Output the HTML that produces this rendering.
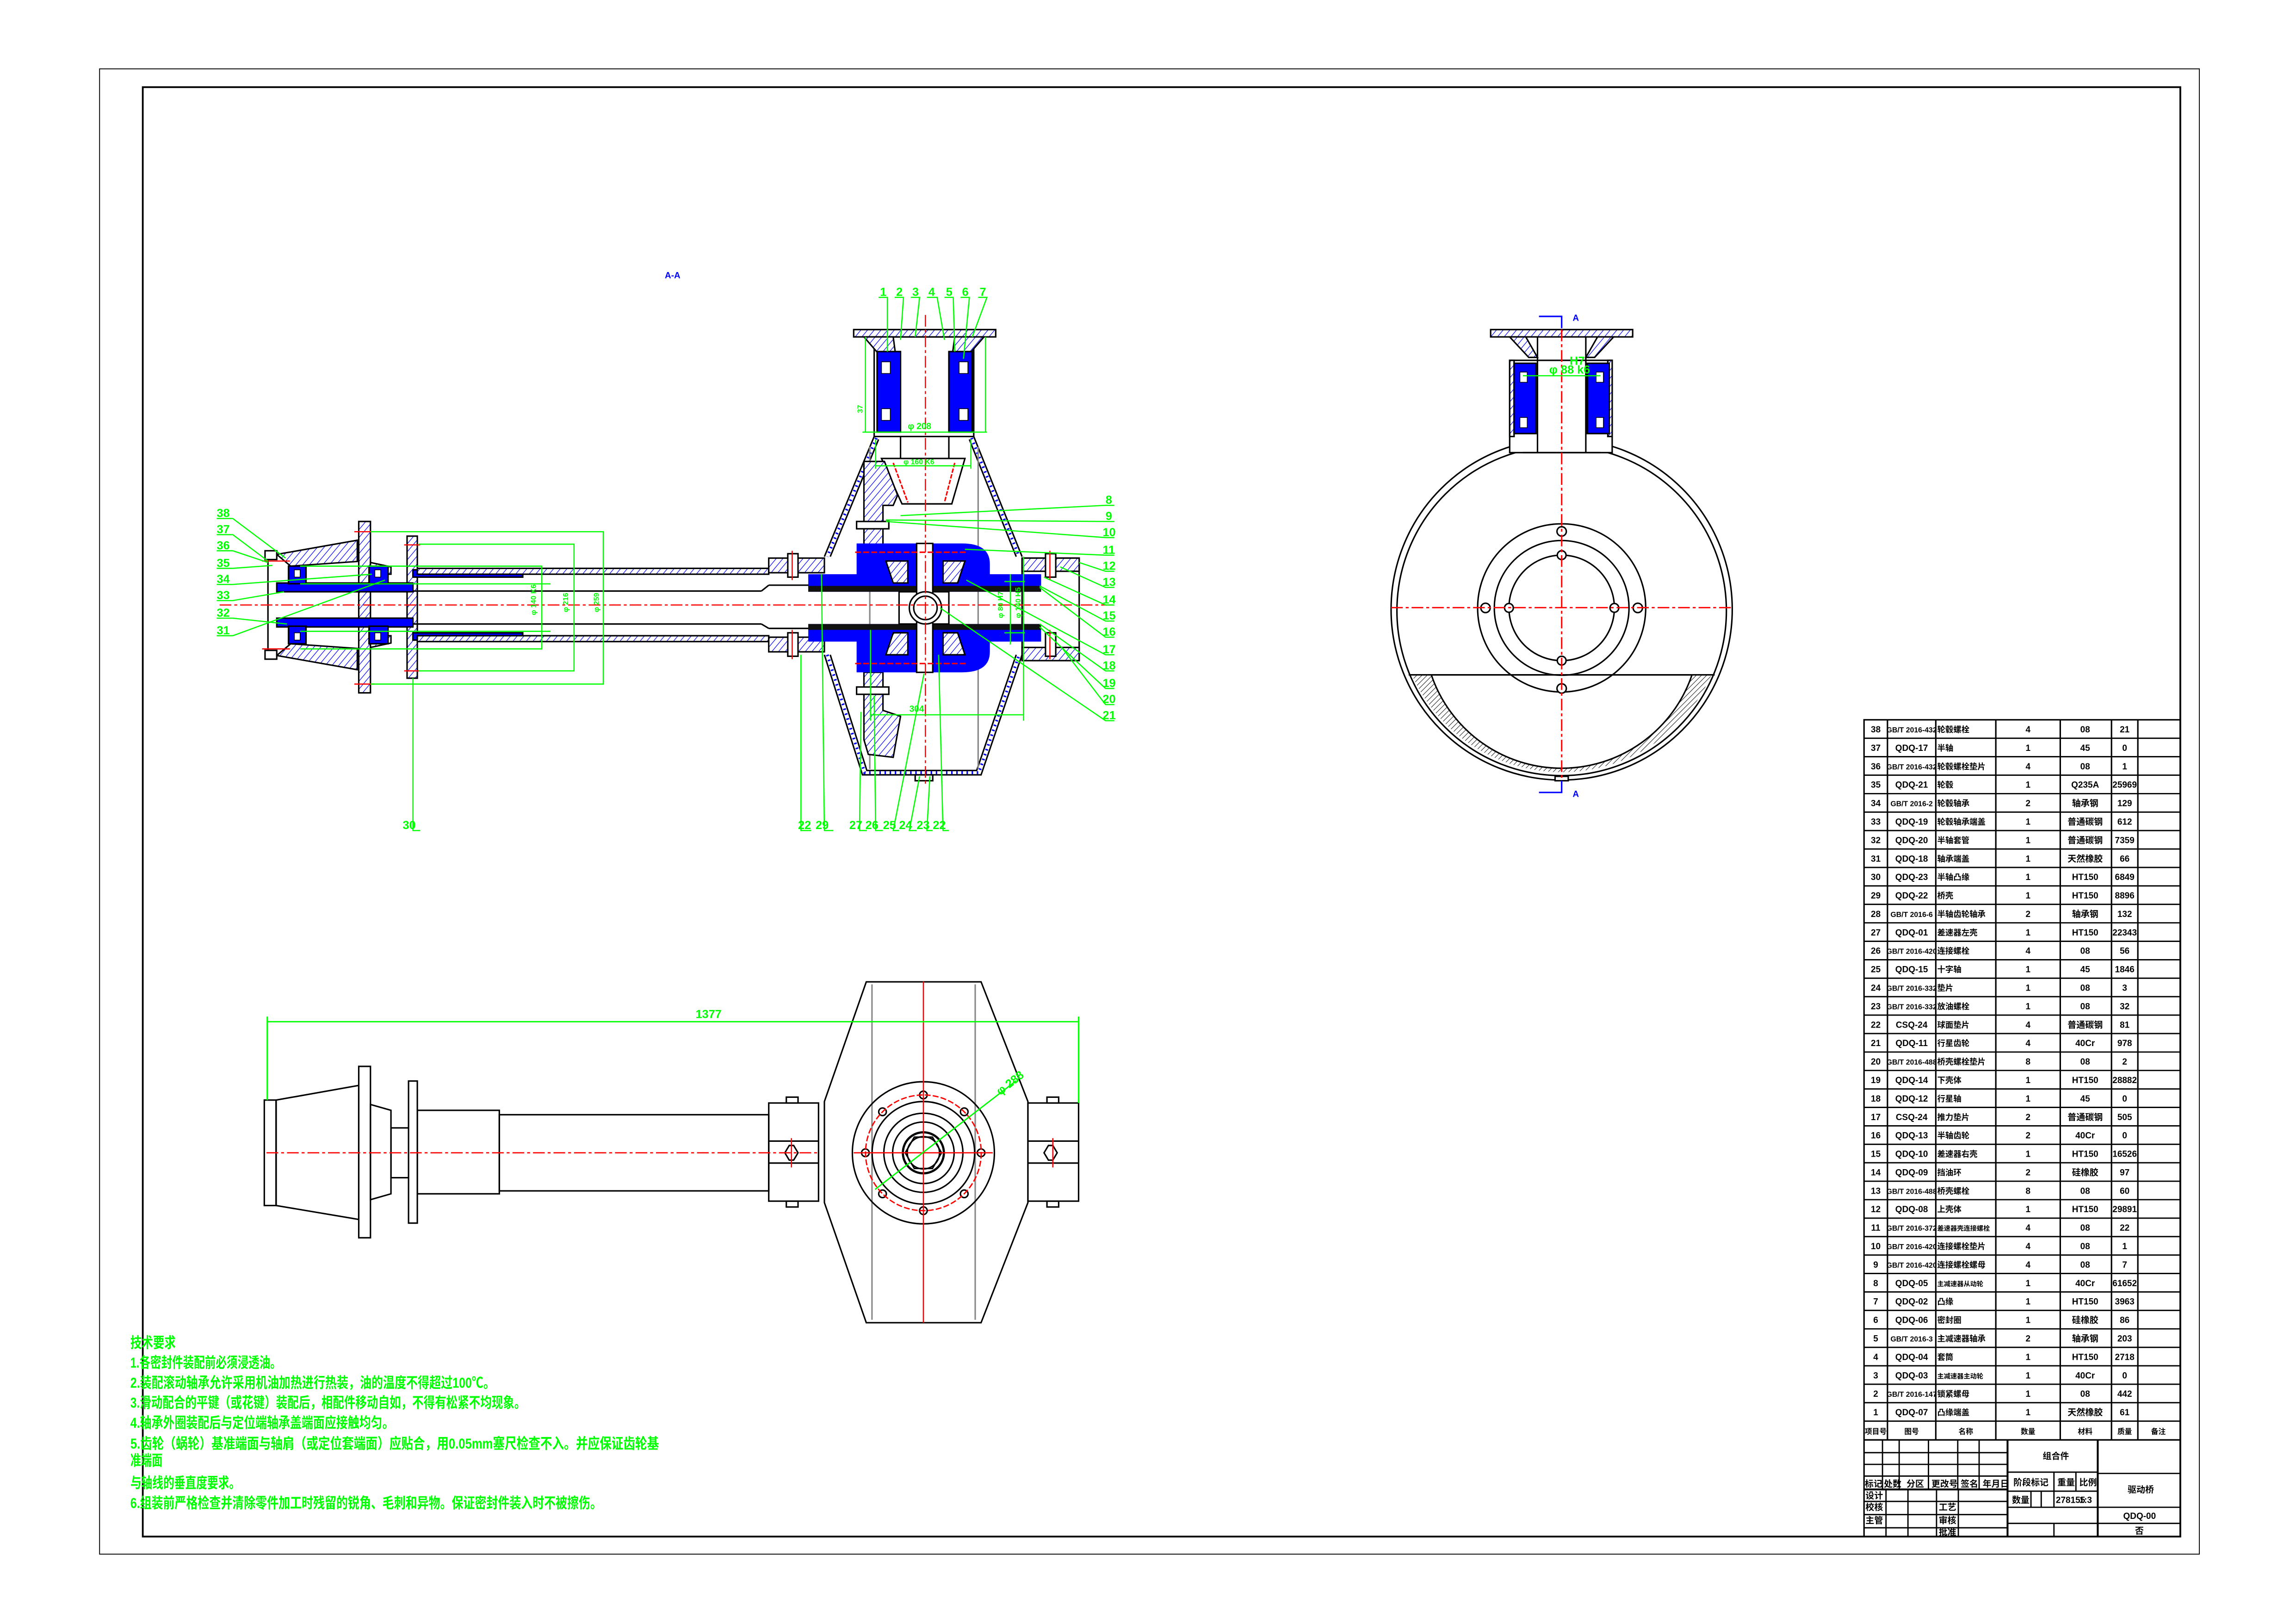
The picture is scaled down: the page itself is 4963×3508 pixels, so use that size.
<!DOCTYPE html>
<html><head><meta charset="utf-8"><style>
html,body{margin:0;padding:0;background:#fff;}
svg{display:block;}
text{font-family:"Liberation Sans","Noto Sans CJK SC",sans-serif;}
.g{fill:#00ff00;font-size:8px;font-weight:bold;}
.t{font-size:6px;font-weight:bold;fill:#000;}
</style></head><body>
<svg width="4963" height="3508" viewBox="0 0 1568 1108" preserveAspectRatio="none" xmlns="http://www.w3.org/2000/svg">
<defs>
<pattern id="hb" width="3.5" height="3.5" patternUnits="userSpaceOnUse" patternTransform="rotate(40)"><rect width="3.5" height="3.5" fill="#fff"/><line x1="0" y1="0" x2="0" y2="3.5" stroke="#0000ff" stroke-width="0.8"/></pattern>
<pattern id="hk" width="2.5" height="2.5" patternUnits="userSpaceOnUse" patternTransform="rotate(45)"><rect width="2.5" height="2.5" fill="#fff"/><line x1="0" y1="0" x2="0" y2="2.5" stroke="#000" stroke-width="0.6"/></pattern>
</defs>
<rect width="1568" height="1108" fill="#fff"/>
<rect x="68" y="47" width="1434" height="1014" fill="none" stroke="#000" stroke-width="0.6"/>
<rect x="97.5" y="59.5" width="1391.5" height="989.5" fill="none" stroke="#000" stroke-width="1.2"/>

<text x="454" y="190" fill="#0000ff" font-size="6" font-weight="bold">A-A</text>

<!-- ============ SECTION VIEW ============ -->
<g stroke="#000" stroke-width="1" fill="none">
<!-- left hub cone -->
<polygon points="189,378.5 244,368.8 244,383.3 198.5,386.5" fill="url(#hb)"/>
<polygon points="189,447.5 244,457.2 244,442.7 198.5,439.5" fill="url(#hb)"/>
<rect x="245" y="356" width="8" height="117" fill="url(#hb)"/>
<rect x="278" y="366" width="7" height="97" fill="url(#hb)"/>
<line x1="183" y1="380" x2="183" y2="446"/>
<rect x="181" y="376" width="8" height="6" fill="#fff"/>
<rect x="181" y="444" width="8" height="6" fill="#fff"/>
<polygon points="253,384 267,387 267,392 253,392" fill="url(#hb)"/>
<polygon points="253,442 267,439 267,434 253,434" fill="url(#hb)"/>
<!-- blue hub -->
<rect x="189" y="398" width="93" height="6" fill="#0000ff"/>
<rect x="189" y="422" width="93" height="6" fill="#0000ff"/>
<rect x="282" y="389" width="75" height="5" fill="#0000ff"/>
<rect x="282" y="432" width="75" height="5" fill="#0000ff"/>
<rect x="197" y="386.5" width="12" height="12" fill="#0000ff"/>
<rect x="252" y="386.5" width="13" height="12" fill="#0000ff"/>
<rect x="197" y="427.5" width="12" height="12" fill="#0000ff"/>
<rect x="252" y="427.5" width="13" height="12" fill="#0000ff"/>
<rect x="201" y="389" width="4" height="5" fill="#fff" stroke-width="0.5"/>
<rect x="256" y="389" width="4" height="5" fill="#fff" stroke-width="0.5"/>
<rect x="201" y="432" width="4" height="5" fill="#fff" stroke-width="0.5"/>
<rect x="256" y="432" width="4" height="5" fill="#fff" stroke-width="0.5"/>
<!-- tube -->
<rect x="285" y="388" width="240" height="4" fill="url(#hb)"/>
<rect x="285" y="434" width="240" height="4" fill="url(#hb)"/>
<line x1="282" y1="403.5" x2="520" y2="403.5"/><line x1="520" y1="403.5" x2="525" y2="399.5"/><line x1="525" y1="399.5" x2="555" y2="399.5"/>
<line x1="282" y1="426" x2="520" y2="426"/><line x1="520" y1="426" x2="525" y2="429"/><line x1="525" y1="429" x2="555" y2="429"/>
<!-- housing flanges -->
<rect x="525" y="381" width="38" height="10" fill="url(#hb)"/>
<rect x="525" y="435" width="38" height="10" fill="url(#hb)"/>
<rect x="538" y="378" width="7" height="16" fill="#fff"/>
<rect x="538" y="432" width="7" height="16" fill="#fff"/>
<rect x="698" y="381" width="39" height="70" fill="none"/>
<rect x="698" y="381" width="39" height="9" fill="url(#hb)"/>
<rect x="698" y="442" width="39" height="9" fill="url(#hb)"/>
<rect x="714" y="378" width="7" height="16" fill="#fff"/>
<rect x="714" y="432" width="7" height="16" fill="#fff"/>
<!-- housing walls -->
<path d="M597,298 L563,380 M665,298 L698,380 M563,447 L589,529 L670,529 L698,447"/>
<path d="M600,300 L567,380 M662,300 L694,380 M567,447 L592,526 L667,526 L694,447"/>
<path d="M598.5,299 L565,380 M663.5,299 L696,380 M565,447 L590.5,527.5 L668.5,527.5 L696,447" stroke="#0000ff" stroke-width="2" stroke-dasharray="1,2.5"/>
<line x1="594" y1="305" x2="594" y2="525" stroke="#888"/>
<line x1="668" y1="305" x2="668" y2="525" stroke="#888"/>
<!-- tower -->
<rect x="597" y="230" width="68" height="68" fill="#fff"/>
<polygon points="583,225 680,225 680,230 583,230" fill="url(#hb)"/>
<polygon points="590,230 610,230 612,245 603,245" fill="url(#hb)"/>
<polygon points="672,230 652,230 650,245 659,245" fill="url(#hb)"/>
<rect x="599" y="240" width="16" height="55" fill="#0000ff"/>
<rect x="648" y="240" width="16" height="55" fill="#0000ff"/>
<rect x="602" y="247" width="6" height="8" fill="#fff" stroke-width="0.5"/>
<rect x="602" y="279" width="6" height="8" fill="#fff" stroke-width="0.5"/>
<rect x="655" y="247" width="6" height="8" fill="#fff" stroke-width="0.5"/>
<rect x="655" y="279" width="6" height="8" fill="#fff" stroke-width="0.5"/>
<line x1="615" y1="298" x2="615" y2="313"/><line x1="648" y1="298" x2="648" y2="313"/>
<!-- pinion -->
<polygon points="602,313 659,313 650,344 616,344" fill="#fff"/>
<line x1="610" y1="316" x2="620" y2="343" stroke="#f00" stroke-dasharray="3,1"/>
<line x1="652" y1="316" x2="645" y2="343" stroke="#f00" stroke-dasharray="3,1"/>
<!-- ring gear -->
<polygon points="590,315 604,315 613,338 610,345 603,345 603,372 590,372" fill="url(#hb)"/>
<polygon points="590,459 603,459 603,485 615,489 610,517 593,515 590,505" fill="url(#hb)"/>
<rect x="585" y="356" width="22" height="5" fill="#fff"/>
<rect x="585" y="469" width="22" height="5" fill="#fff"/>
<!-- blue differential -->
<path d="M585,371 L657,371 Q676,371 676,385 L676,392 L711,392 L711,404 L552,404 L552,392 L585,392 Z" fill="#0000ff" stroke="none"/>
<path d="M585,459 L657,459 Q676,459 676,445 L676,438 L711,438 L711,426 L552,426 L552,438 L585,438 Z" fill="#0000ff" stroke="none"/>
<rect x="552" y="400" width="159" height="4" fill="#111" stroke="none"/>
<rect x="552" y="426" width="159" height="4" fill="#111" stroke="none"/>
<polygon points="605,383 620,383 620,398 610,398" fill="url(#hb)"/>
<polygon points="644,383 659,383 654,398 644,398" fill="url(#hb)"/>
<polygon points="605,447 620,447 620,432 610,432" fill="url(#hb)"/>
<polygon points="644,447 659,447 654,432 644,432" fill="url(#hb)"/>
<rect x="614" y="404" width="34" height="22" fill="#fff"/>
<rect x="626" y="371" width="11" height="88" fill="#fff"/>
<circle cx="632" cy="415" r="11" fill="#fff"/>
<circle cx="632" cy="415" r="8" fill="#fff"/>
<line x1="584" y1="377" x2="660" y2="377" stroke="#f00" stroke-dasharray="4,1.5"/>
<line x1="584" y1="453" x2="660" y2="453" stroke="#f00" stroke-dasharray="4,1.5"/>
<rect x="625" y="529" width="12" height="4" fill="#fff"/>
</g>
<!-- red centerlines -->
<g stroke="#ff0000" stroke-width="0.8" fill="none">
<line x1="150" y1="413" x2="760" y2="413" stroke-dasharray="8,2,2,2"/>
<line x1="632" y1="215" x2="632" y2="535" stroke-dasharray="8,2,2,2"/>
<line x1="242" y1="363" x2="256" y2="363"/><line x1="242" y1="467" x2="256" y2="467"/>
<line x1="276" y1="372" x2="287" y2="372"/><line x1="276" y1="458" x2="287" y2="458"/>
<line x1="179" y1="383" x2="198" y2="383"/><line x1="179" y1="443" x2="198" y2="443"/>
<line x1="541" y1="376" x2="541" y2="396"/><line x1="541" y1="430" x2="541" y2="450"/>
<line x1="717" y1="376" x2="717" y2="396"/><line x1="717" y1="430" x2="717" y2="450"/>
</g>
<!-- green dims -->
<g stroke="#00ff00" stroke-width="0.8" fill="none">
<polyline points="253,363 412,363 412,467 253,467"/>
<polyline points="286,371.5 392,371.5 392,458 286,458"/>
<polyline points="205,386.5 370,386.5 370,443 205,443"/>
<polyline points="205,398.6 376,398.6"/><polyline points="205,431 376,431"/>
<line x1="594.5" y1="488" x2="699" y2="488"/>
<line x1="594.5" y1="430" x2="594.5" y2="492"/><line x1="699" y1="380" x2="699" y2="492"/>
<line x1="690" y1="392" x2="690" y2="440"/><line x1="686" y1="397" x2="700" y2="397"/><line x1="686" y1="432" x2="700" y2="432"/>
<line x1="589" y1="295" x2="674" y2="295"/><line x1="598" y1="318" x2="663" y2="318"/>
<line x1="591" y1="230" x2="591" y2="295"/><line x1="673" y1="230" x2="673" y2="295"/>
<line x1="598" y1="300" x2="598" y2="320"/><line x1="663" y1="300" x2="663" y2="320"/>
<!-- leaders right -->
<polyline points="615,352 755,345 761,345"/><polyline points="605,355 755,356 761,356"/>
<polyline points="605,356 755,367 761,367"/><polyline points="659,375 755,379 761,379"/>
<polyline points="737,384 755,390 761,390"/><polyline points="724,387 755,401 761,401"/>
<polyline points="713,394 755,413 761,413"/><polyline points="710,400 755,424 761,424"/>
<polyline points="710,401 755,435 761,435"/><polyline points="660,396 755,447 761,447"/>
<polyline points="710,426 755,458 761,458"/><polyline points="710,428 755,470 761,470"/>
<polyline points="725,442 755,481 761,481"/><polyline points="642,415 755,492 761,492"/>
<!-- leaders bottom -->
<polyline points="547,447 547,567 554,567"/><polyline points="561,392 563,567 569,567"/>
<polyline points="588,486 587,567 592,567"/><polyline points="597,475 598,567 603,567"/>
<polyline points="631,460 610,567 614,567"/><polyline points="628,530 621,567 626,567"/>
<polyline points="635,530 633,567 637,567"/><polyline points="641,447 644,567 648,567"/>
<polyline points="282,463 282,567 287,567"/>
<!-- leaders top -->
<polyline points="600,203 606,203 606,240"/><polyline points="611,203 617,203 615,232"/>
<polyline points="622,203 628,203 625,230"/><polyline points="633,203 640,203 645,232"/>
<polyline points="645,203 651,203 652,240"/><polyline points="656,203 662,203 658,245"/>
<polyline points="668,203 674,203 664,230"/>
<!-- leaders left -->
<polyline points="159,354 148,354"/><line x1="159" y1="354" x2="195" y2="381"/>
<polyline points="159,365 148,365"/><line x1="159" y1="365" x2="183" y2="383"/>
<polyline points="159,376 148,376"/><line x1="159" y1="376" x2="183" y2="384"/>
<polyline points="159,388 148,388"/><line x1="159" y1="388" x2="186" y2="386"/>
<polyline points="159,399 148,399"/><line x1="159" y1="399" x2="254" y2="392"/>
<polyline points="159,410 148,410"/><line x1="159" y1="410" x2="194" y2="404"/>
<polyline points="159,422 148,422"/><line x1="159" y1="422" x2="196" y2="426"/>
<polyline points="159,434 148,434"/><line x1="159" y1="434" x2="263" y2="396"/>
</g>
<g class="g">
<text x="755" y="344">8</text><text x="755" y="355">9</text><text x="753" y="366">10</text><text x="753" y="378">11</text>
<text x="753" y="389">12</text><text x="753" y="400">13</text><text x="753" y="412">14</text><text x="753" y="423">15</text>
<text x="753" y="434">16</text><text x="753" y="446">17</text><text x="753" y="457">18</text><text x="753" y="469">19</text>
<text x="753" y="480">20</text><text x="753" y="491">21</text>
<text x="545" y="566">22</text><text x="557" y="566">29</text><text x="580" y="566">27</text><text x="591" y="566">26</text>
<text x="603" y="566">25</text><text x="614" y="566">24</text><text x="626" y="566">23</text><text x="637" y="566">22</text>
<text x="275" y="566">30</text>
<text x="601" y="202">1</text><text x="612" y="202">2</text><text x="623" y="202">3</text><text x="634" y="202">4</text>
<text x="646" y="202">5</text><text x="657" y="202">6</text><text x="669" y="202">7</text>
<text x="148" y="353">38</text><text x="148" y="364">37</text><text x="148" y="375">36</text><text x="148" y="387">35</text>
<text x="148" y="398">34</text><text x="148" y="409">33</text><text x="148" y="421">32</text><text x="148" y="433">31</text>
<text x="621" y="486" font-size="6">304</text>
<text x="620" y="293" font-size="6">φ 208</text>
<text x="617" y="317" font-size="5">φ 160 K6</text>
</g>
<g class="g" font-size="5">
<text transform="translate(388,418) rotate(-90)" font-size="5">φ 216</text>
<text transform="translate(409,418) rotate(-90)" font-size="5">φ 259</text>
<text transform="translate(366,420) rotate(-90)" font-size="5">φ 140 K6</text>
<text transform="translate(685,422) rotate(-90)" font-size="5">φ 80 H7</text>
<text transform="translate(697,422) rotate(-90)" font-size="5">φ 140 H5</text>
<text transform="translate(589,282) rotate(-90)" font-size="5">37</text>
</g>

<!-- ============ CIRCULAR VIEW ============ -->
<g stroke="#000" stroke-width="1" fill="none">
<circle cx="1066.5" cy="416" r="116.5" fill="#fff"/>
<circle cx="1066.5" cy="417" r="112.5"/>
<path d="M964.2,460.7 A112 112 0 0 0 1168.8,460.7 Z" fill="url(#hk)" stroke="none"/>
<path d="M977.5,460.7 A94 94 0 0 0 1155.5,460.7 Z" fill="#fff"/>
<line x1="962" y1="460.7" x2="1171" y2="460.7"/>
<circle cx="1066.5" cy="415" r="57.4"/>
<circle cx="1066.5" cy="415" r="46"/>
<circle cx="1066.5" cy="415" r="36" fill="#fff"/>
<circle cx="1014.5" cy="415" r="3.2" fill="#fff"/><circle cx="1118.5" cy="415" r="3.2" fill="#fff"/>
<circle cx="1066.5" cy="362.8" r="3.2" fill="#fff"/><circle cx="1066.5" cy="470" r="3.2" fill="#fff"/>
<circle cx="1030.5" cy="415" r="3" fill="#fff"/><circle cx="1102.5" cy="415" r="3" fill="#fff"/>
<circle cx="1066.5" cy="379" r="3" fill="#fff"/><circle cx="1066.5" cy="451" r="3" fill="#fff"/>
<rect x="1031" y="246" width="70" height="63" fill="#fff"/>
<polygon points="1018,225 1115,225 1115,230 1018,230" fill="url(#hb)"/>
<polygon points="1031,230 1042,230 1050,244 1044,244" fill="url(#hb)"/>
<polygon points="1102,230 1091,230 1083,244 1089,244" fill="url(#hb)"/>
<rect x="1031" y="246" width="3" height="52" fill="url(#hb)"/>
<rect x="1098" y="246" width="3" height="52" fill="url(#hb)"/>
<rect x="1034" y="248" width="15" height="48" fill="#0000ff"/>
<rect x="1084" y="248" width="15" height="48" fill="#0000ff"/>
<rect x="1038" y="254" width="5" height="7" fill="#fff" stroke-width="0.5"/>
<rect x="1038" y="285" width="5" height="7" fill="#fff" stroke-width="0.5"/>
<rect x="1090" y="254" width="5" height="7" fill="#fff" stroke-width="0.5"/>
<rect x="1090" y="285" width="5" height="7" fill="#fff" stroke-width="0.5"/>
<line x1="1050" y1="230" x2="1050" y2="309"/><line x1="1083" y1="230" x2="1083" y2="309"/>
<line x1="1040" y1="309" x2="1093" y2="309"/>
<rect x="1062" y="530" width="9" height="3" fill="#fff"/>
</g>
<g stroke="#ff0000" stroke-width="0.9" stroke-dasharray="8,2,2,2">
<line x1="950" y1="414.8" x2="1184" y2="414.8"/>
<line x1="1066.5" y1="225" x2="1066.5" y2="535"/>
</g>
<line x1="1040" y1="256.5" x2="1093" y2="256.5" stroke="#00ff00" stroke-width="0.8"/>
<text x="1058" y="255" class="g" font-size="5">φ 88 k6</text>
<text x="1072" y="249" class="g" font-size="5">H7</text>
<g stroke="#0000ff" stroke-width="1" fill="none">
<polyline points="1051,216 1066.5,216 1066.5,224"/><polyline points="1051,541 1066.5,541 1066.5,533"/>
</g>
<text x="1074" y="219" fill="#0000ff" font-size="6" font-weight="bold">A</text>
<text x="1074" y="544" fill="#0000ff" font-size="6" font-weight="bold">A</text>

<!-- ============ BOTTOM VIEW ============ -->
<g stroke="#000" stroke-width="1" fill="none">
<polygon points="188.6,751 245,741 245,832.5 188.6,823" fill="#fff"/>
<rect x="180.5" y="751" width="8" height="72" fill="#fff"/>
<rect x="245" y="728" width="8" height="117" fill="#fff"/>
<polygon points="253,754 267,758 267,815 253,819"/>
<rect x="267" y="770" width="12" height="34"/>
<rect x="279" y="738" width="6" height="97" fill="#fff"/>
<rect x="285" y="758" width="56" height="57"/>
<rect x="341" y="761" width="184" height="52"/>
<rect x="525" y="753" width="34" height="67"/>
<line x1="525" y1="779" x2="559" y2="779"/><line x1="525" y1="794" x2="559" y2="794"/>
<path d="M591.6,670.3 L670,670.3 L702,752 L702,821 L670,903 L591.6,903 L563,821 L563,752 Z" fill="#fff"/>
<line x1="595.5" y1="672" x2="595.5" y2="901" stroke="#888"/>
<line x1="666" y1="672" x2="666" y2="901" stroke="#888"/>
<rect x="702" y="753" width="34.6" height="67"/>
<line x1="702" y1="779" x2="736.6" y2="779"/><line x1="702" y1="794" x2="736.6" y2="794"/>
<rect x="537" y="749" width="8" height="4"/><rect x="537" y="820" width="8" height="4"/>
<rect x="715" y="749" width="8" height="4"/><rect x="715" y="820" width="8" height="4"/>
<circle cx="630.6" cy="787" r="48.5"/>
<circle cx="630.6" cy="787" r="35"/>
<circle cx="630.6" cy="787" r="27"/>
<circle cx="630.6" cy="787" r="21"/>
<polygon points="643,787 636.8,797.7 624.4,797.7 618.2,787 624.4,776.3 636.8,776.3"/>
<circle cx="630.6" cy="787" r="14" stroke-width="1.5"/>
<circle cx="630.6" cy="787" r="11"/>
<circle cx="630.6" cy="747.5" r="2.6"/><circle cx="630.6" cy="826.5" r="2.6"/>
<circle cx="591" cy="787" r="2.6"/><circle cx="670" cy="787" r="2.6"/>
<circle cx="602.7" cy="759" r="2.6"/><circle cx="658.5" cy="759" r="2.6"/>
<circle cx="602.7" cy="815" r="2.6"/><circle cx="658.5" cy="815" r="2.6"/>
<polygon points="545,787 542,792 539,792 536,787 539,782 542,782"/>
<polygon points="722,787 719,792 716,792 713,787 716,782 719,782"/>
</g>
<circle cx="630.6" cy="787" r="39.5" stroke="#ff0000" stroke-width="0.9" fill="none" stroke-dasharray="4,1.5"/>
<g stroke="#ff0000" stroke-width="0.8">
<line x1="182" y1="787" x2="559" y2="787" stroke-dasharray="8,2,2,2"/>
<line x1="583" y1="787" x2="678" y2="787"/>
<line x1="630.6" y1="670" x2="630.6" y2="903"/>
<line x1="540.5" y1="777" x2="540.5" y2="797"/><line x1="719" y1="777" x2="719" y2="797"/>
</g>
<g stroke="#00ff00" stroke-width="0.9">
<line x1="182.5" y1="697.5" x2="736.6" y2="697.5"/>
<line x1="182.5" y1="694" x2="182.5" y2="751"/><line x1="736.6" y1="694" x2="736.6" y2="753"/>
<line x1="597.6" y1="812" x2="694" y2="737.8"/>
</g>
<text x="475" y="695" class="g" font-size="6">1377</text>
<text transform="translate(683,748) rotate(-38)" class="g" font-size="5">φ 288</text>

<!-- ============ TECH REQUIREMENTS ============ -->
<g fill="#00ff00" font-size="10" font-weight="bold" lengthAdjust="spacingAndGlyphs">
<text x="89" y="920" textLength="31" lengthAdjust="spacingAndGlyphs">技术要求</text>
<text x="89" y="933.7" textLength="103" lengthAdjust="spacingAndGlyphs">1.各密封件装配前必须浸透油。</text>
<text x="89" y="947.4" textLength="249" lengthAdjust="spacingAndGlyphs">2.装配滚动轴承允许采用机油加热进行热装，油的温度不得超过100℃。</text>
<text x="89" y="961" textLength="270" lengthAdjust="spacingAndGlyphs">3.滑动配合的平键（或花键）装配后，相配件移动自如，不得有松紧不均现象。</text>
<text x="89" y="974.7" textLength="180" lengthAdjust="spacingAndGlyphs">4.轴承外圈装配后与定位端轴承盖端面应接触均匀。</text>
<text x="89" y="989" textLength="361" lengthAdjust="spacingAndGlyphs">5.齿轮（蜗轮）基准端面与轴肩（或定位套端面）应贴合，用0.05mm塞尺检查不入。并应保证齿轮基</text>
<text x="89" y="1000.5" textLength="22" lengthAdjust="spacingAndGlyphs">准端面</text>
<text x="89" y="1015.8" textLength="75" lengthAdjust="spacingAndGlyphs">与轴线的垂直度要求。</text>
<text x="89" y="1029.5" textLength="322" lengthAdjust="spacingAndGlyphs">6.组装前严格检查并清除零件加工时残留的锐角、毛刺和异物。保证密封件装入时不被擦伤。</text>
</g>

<!-- ============ PARTS TABLE ============ -->
<g stroke="#000" stroke-width="1" fill="none">
<rect x="1273" y="491.4" width="216" height="557.6"/>
<line x1="1289" y1="491.4" x2="1289" y2="983"/><line x1="1322" y1="491.4" x2="1322" y2="983"/>
<line x1="1363" y1="491.4" x2="1363" y2="983"/><line x1="1407" y1="491.4" x2="1407" y2="983"/>
<line x1="1442" y1="491.4" x2="1442" y2="983"/><line x1="1460" y1="491.4" x2="1460" y2="983"/>
<line x1="1273" y1="983" x2="1489" y2="983"/>
</g>
<g stroke="#000" stroke-width="0.9">
<line x1="1273" y1="504" x2="1489" y2="504"/><line x1="1273" y1="516.6" x2="1489" y2="516.6"/><line x1="1273" y1="529.2" x2="1489" y2="529.2"/><line x1="1273" y1="541.8" x2="1489" y2="541.8"/><line x1="1273" y1="554.4" x2="1489" y2="554.4"/><line x1="1273" y1="567" x2="1489" y2="567"/><line x1="1273" y1="579.6" x2="1489" y2="579.6"/><line x1="1273" y1="592.2" x2="1489" y2="592.2"/><line x1="1273" y1="604.8" x2="1489" y2="604.8"/><line x1="1273" y1="617.4" x2="1489" y2="617.4"/><line x1="1273" y1="630" x2="1489" y2="630"/><line x1="1273" y1="642.6" x2="1489" y2="642.6"/><line x1="1273" y1="655.2" x2="1489" y2="655.2"/><line x1="1273" y1="667.8" x2="1489" y2="667.8"/><line x1="1273" y1="680.4" x2="1489" y2="680.4"/><line x1="1273" y1="693" x2="1489" y2="693"/><line x1="1273" y1="705.6" x2="1489" y2="705.6"/><line x1="1273" y1="718.2" x2="1489" y2="718.2"/><line x1="1273" y1="730.8" x2="1489" y2="730.8"/><line x1="1273" y1="743.4" x2="1489" y2="743.4"/><line x1="1273" y1="756" x2="1489" y2="756"/><line x1="1273" y1="768.6" x2="1489" y2="768.6"/><line x1="1273" y1="781.2" x2="1489" y2="781.2"/><line x1="1273" y1="793.8" x2="1489" y2="793.8"/><line x1="1273" y1="806.4" x2="1489" y2="806.4"/><line x1="1273" y1="819" x2="1489" y2="819"/><line x1="1273" y1="831.6" x2="1489" y2="831.6"/><line x1="1273" y1="844.2" x2="1489" y2="844.2"/><line x1="1273" y1="856.8" x2="1489" y2="856.8"/><line x1="1273" y1="869.4" x2="1489" y2="869.4"/><line x1="1273" y1="882" x2="1489" y2="882"/><line x1="1273" y1="894.6" x2="1489" y2="894.6"/><line x1="1273" y1="907.2" x2="1489" y2="907.2"/><line x1="1273" y1="919.8" x2="1489" y2="919.8"/><line x1="1273" y1="932.4" x2="1489" y2="932.4"/><line x1="1273" y1="945" x2="1489" y2="945"/><line x1="1273" y1="957.6" x2="1489" y2="957.6"/><line x1="1273" y1="970.2" x2="1489" y2="970.2"/>
</g>
<g class="t">
<g text-anchor="middle">
<text x="1281" y="500">38</text><text x="1281" y="512.6">37</text><text x="1281" y="525.2">36</text><text x="1281" y="537.8">35</text><text x="1281" y="550.4">34</text><text x="1281" y="563">33</text><text x="1281" y="575.6">32</text><text x="1281" y="588.2">31</text><text x="1281" y="600.8">30</text><text x="1281" y="613.4">29</text><text x="1281" y="626">28</text><text x="1281" y="638.6">27</text><text x="1281" y="651.2">26</text><text x="1281" y="663.8">25</text><text x="1281" y="676.4">24</text><text x="1281" y="689">23</text><text x="1281" y="701.6">22</text><text x="1281" y="714.2">21</text><text x="1281" y="726.8">20</text><text x="1281" y="739.4">19</text><text x="1281" y="752">18</text><text x="1281" y="764.6">17</text><text x="1281" y="777.2">16</text><text x="1281" y="789.8">15</text><text x="1281" y="802.4">14</text><text x="1281" y="815">13</text><text x="1281" y="827.6">12</text><text x="1281" y="840.2">11</text><text x="1281" y="852.8">10</text><text x="1281" y="865.4">9</text><text x="1281" y="878">8</text><text x="1281" y="890.6">7</text><text x="1281" y="903.2">6</text><text x="1281" y="915.8">5</text><text x="1281" y="928.4">4</text><text x="1281" y="941">3</text><text x="1281" y="953.6">2</text><text x="1281" y="966.2">1</text>
<text x="1305.5" y="500" font-size="5">GB/T 2016-432</text><text x="1305.5" y="512.6">QDQ-17</text><text x="1305.5" y="525.2" font-size="5">GB/T 2016-432</text><text x="1305.5" y="537.8">QDQ-21</text><text x="1305.5" y="550.4" font-size="5">GB/T 2016-2</text><text x="1305.5" y="563">QDQ-19</text><text x="1305.5" y="575.6">QDQ-20</text><text x="1305.5" y="588.2">QDQ-18</text><text x="1305.5" y="600.8">QDQ-23</text><text x="1305.5" y="613.4">QDQ-22</text><text x="1305.5" y="626" font-size="5">GB/T 2016-6</text><text x="1305.5" y="638.6">QDQ-01</text><text x="1305.5" y="651.2" font-size="5">GB/T 2016-420</text><text x="1305.5" y="663.8">QDQ-15</text><text x="1305.5" y="676.4" font-size="5">GB/T 2016-332</text><text x="1305.5" y="689" font-size="5">GB/T 2016-332</text><text x="1305.5" y="701.6">CSQ-24</text><text x="1305.5" y="714.2">QDQ-11</text><text x="1305.5" y="726.8" font-size="5">GB/T 2016-488</text><text x="1305.5" y="739.4">QDQ-14</text><text x="1305.5" y="752">QDQ-12</text><text x="1305.5" y="764.6">CSQ-24</text><text x="1305.5" y="777.2">QDQ-13</text><text x="1305.5" y="789.8">QDQ-10</text><text x="1305.5" y="802.4">QDQ-09</text><text x="1305.5" y="815" font-size="5">GB/T 2016-488</text><text x="1305.5" y="827.6">QDQ-08</text><text x="1305.5" y="840.2" font-size="5">GB/T 2016-372</text><text x="1305.5" y="852.8" font-size="5">GB/T 2016-420</text><text x="1305.5" y="865.4" font-size="5">GB/T 2016-420</text><text x="1305.5" y="878">QDQ-05</text><text x="1305.5" y="890.6">QDQ-02</text><text x="1305.5" y="903.2">QDQ-06</text><text x="1305.5" y="915.8" font-size="5">GB/T 2016-3</text><text x="1305.5" y="928.4">QDQ-04</text><text x="1305.5" y="941">QDQ-03</text><text x="1305.5" y="953.6" font-size="5">GB/T 2016-147</text><text x="1305.5" y="966.2">QDQ-07</text>
<text x="1385" y="500">4</text><text x="1385" y="512.6">1</text><text x="1385" y="525.2">4</text><text x="1385" y="537.8">1</text><text x="1385" y="550.4">2</text><text x="1385" y="563">1</text><text x="1385" y="575.6">1</text><text x="1385" y="588.2">1</text><text x="1385" y="600.8">1</text><text x="1385" y="613.4">1</text><text x="1385" y="626">2</text><text x="1385" y="638.6">1</text><text x="1385" y="651.2">4</text><text x="1385" y="663.8">1</text><text x="1385" y="676.4">1</text><text x="1385" y="689">1</text><text x="1385" y="701.6">4</text><text x="1385" y="714.2">4</text><text x="1385" y="726.8">8</text><text x="1385" y="739.4">1</text><text x="1385" y="752">1</text><text x="1385" y="764.6">2</text><text x="1385" y="777.2">2</text><text x="1385" y="789.8">1</text><text x="1385" y="802.4">2</text><text x="1385" y="815">8</text><text x="1385" y="827.6">1</text><text x="1385" y="840.2">4</text><text x="1385" y="852.8">4</text><text x="1385" y="865.4">4</text><text x="1385" y="878">1</text><text x="1385" y="890.6">1</text><text x="1385" y="903.2">1</text><text x="1385" y="915.8">2</text><text x="1385" y="928.4">1</text><text x="1385" y="941">1</text><text x="1385" y="953.6">1</text><text x="1385" y="966.2">1</text>
<text x="1424" y="500">08</text><text x="1424" y="512.6">45</text><text x="1424" y="525.2">08</text><text x="1424" y="537.8">Q235A</text><text x="1424" y="550.4">轴承钢</text><text x="1424" y="563">普通碳钢</text><text x="1424" y="575.6">普通碳钢</text><text x="1424" y="588.2">天然橡胶</text><text x="1424" y="600.8">HT150</text><text x="1424" y="613.4">HT150</text><text x="1424" y="626">轴承钢</text><text x="1424" y="638.6">HT150</text><text x="1424" y="651.2">08</text><text x="1424" y="663.8">45</text><text x="1424" y="676.4">08</text><text x="1424" y="689">08</text><text x="1424" y="701.6">普通碳钢</text><text x="1424" y="714.2">40Cr</text><text x="1424" y="726.8">08</text><text x="1424" y="739.4">HT150</text><text x="1424" y="752">45</text><text x="1424" y="764.6">普通碳钢</text><text x="1424" y="777.2">40Cr</text><text x="1424" y="789.8">HT150</text><text x="1424" y="802.4">硅橡胶</text><text x="1424" y="815">08</text><text x="1424" y="827.6">HT150</text><text x="1424" y="840.2">08</text><text x="1424" y="852.8">08</text><text x="1424" y="865.4">08</text><text x="1424" y="878">40Cr</text><text x="1424" y="890.6">HT150</text><text x="1424" y="903.2">硅橡胶</text><text x="1424" y="915.8">轴承钢</text><text x="1424" y="928.4">HT150</text><text x="1424" y="941">40Cr</text><text x="1424" y="953.6">08</text><text x="1424" y="966.2">天然橡胶</text>
<text x="1451" y="500">21</text><text x="1451" y="512.6">0</text><text x="1451" y="525.2">1</text><text x="1451" y="537.8">25969</text><text x="1451" y="550.4">129</text><text x="1451" y="563">612</text><text x="1451" y="575.6">7359</text><text x="1451" y="588.2">66</text><text x="1451" y="600.8">6849</text><text x="1451" y="613.4">8896</text><text x="1451" y="626">132</text><text x="1451" y="638.6">22343</text><text x="1451" y="651.2">56</text><text x="1451" y="663.8">1846</text><text x="1451" y="676.4">3</text><text x="1451" y="689">32</text><text x="1451" y="701.6">81</text><text x="1451" y="714.2">978</text><text x="1451" y="726.8">2</text><text x="1451" y="739.4">28882</text><text x="1451" y="752">0</text><text x="1451" y="764.6">505</text><text x="1451" y="777.2">0</text><text x="1451" y="789.8">16526</text><text x="1451" y="802.4">97</text><text x="1451" y="815">60</text><text x="1451" y="827.6">29891</text><text x="1451" y="840.2">22</text><text x="1451" y="852.8">1</text><text x="1451" y="865.4">7</text><text x="1451" y="878">61652</text><text x="1451" y="890.6">3963</text><text x="1451" y="903.2">86</text><text x="1451" y="915.8">203</text><text x="1451" y="928.4">2718</text><text x="1451" y="941">0</text><text x="1451" y="953.6">442</text><text x="1451" y="966.2">61</text>
<text x="1281" y="979" font-size="5">项目号</text><text x="1305.5" y="979" font-size="5">图号</text><text x="1342.5" y="979" font-size="5">名称</text><text x="1385" y="979" font-size="5">数量</text><text x="1424" y="979" font-size="5">材料</text><text x="1451" y="979" font-size="5">质量</text><text x="1474" y="979" font-size="5">备注</text>
</g>
<g font-size="5.5">
<text x="1323" y="500">轮毂螺栓</text><text x="1323" y="512.6">半轴</text><text x="1323" y="525.2">轮毂螺栓垫片</text><text x="1323" y="537.8">轮毂</text><text x="1323" y="550.4">轮毂轴承</text><text x="1323" y="563">轮毂轴承端盖</text><text x="1323" y="575.6">半轴套管</text><text x="1323" y="588.2">轴承端盖</text><text x="1323" y="600.8">半轴凸缘</text><text x="1323" y="613.4">桥壳</text><text x="1323" y="626">半轴齿轮轴承</text><text x="1323" y="638.6">差速器左壳</text><text x="1323" y="651.2">连接螺栓</text><text x="1323" y="663.8">十字轴</text><text x="1323" y="676.4">垫片</text><text x="1323" y="689">放油螺栓</text><text x="1323" y="701.6">球面垫片</text><text x="1323" y="714.2">行星齿轮</text><text x="1323" y="726.8">桥壳螺栓垫片</text><text x="1323" y="739.4">下壳体</text><text x="1323" y="752">行星轴</text><text x="1323" y="764.6">推力垫片</text><text x="1323" y="777.2">半轴齿轮</text><text x="1323" y="789.8">差速器右壳</text><text x="1323" y="802.4">挡油环</text><text x="1323" y="815">桥壳螺栓</text><text x="1323" y="827.6">上壳体</text><text x="1323" y="840.2" font-size="4.5">差速器壳连接螺栓</text><text x="1323" y="852.8">连接螺栓垫片</text><text x="1323" y="865.4">连接螺栓螺母</text><text x="1323" y="878" font-size="4.5">主减速器从动轮</text><text x="1323" y="890.6">凸缘</text><text x="1323" y="903.2">密封圈</text><text x="1323" y="915.8">主减速器轴承</text><text x="1323" y="928.4">套筒</text><text x="1323" y="941" font-size="4.5">主减速器主动轮</text><text x="1323" y="953.6">锁紧螺母</text><text x="1323" y="966.2">凸缘端盖</text>
</g>
</g>

<!-- title block -->
<g stroke="#000" stroke-width="0.9" fill="none">
<line x1="1273" y1="991.7" x2="1371" y2="991.7"/><line x1="1273" y1="999.7" x2="1371" y2="999.7"/>
<line x1="1273" y1="1007.7" x2="1371" y2="1007.7"/><line x1="1273" y1="1016.8" x2="1371" y2="1016.8" stroke-width="1.3"/>
<line x1="1273" y1="1025" x2="1371" y2="1025"/><line x1="1273" y1="1034" x2="1371" y2="1034"/><line x1="1273" y1="1043" x2="1371" y2="1043"/>
<line x1="1285.6" y1="983" x2="1285.6" y2="1016.8"/><line x1="1297" y1="983" x2="1297" y2="1016.8"/>
<line x1="1317" y1="983" x2="1317" y2="1016.8"/><line x1="1337" y1="983" x2="1337" y2="1016.8"/>
<line x1="1351.6" y1="983" x2="1351.6" y2="1016.8"/>
<line x1="1288" y1="1016.8" x2="1288" y2="1049"/><line x1="1303" y1="1016.8" x2="1303" y2="1049"/>
<line x1="1322.5" y1="1016.8" x2="1322.5" y2="1049"/><line x1="1337.4" y1="1016.8" x2="1337.4" y2="1049"/>
<line x1="1371" y1="983" x2="1371" y2="1049" stroke-width="1.3"/>
<line x1="1432.6" y1="983" x2="1432.6" y2="1049" stroke-width="1.3"/>
<line x1="1371" y1="1005" x2="1432.6" y2="1005"/><line x1="1371" y1="1018" x2="1432.6" y2="1018"/>
<line x1="1371" y1="1029" x2="1489" y2="1029"/><line x1="1371" y1="1040" x2="1489" y2="1040"/>
<line x1="1432.6" y1="1005.9" x2="1489" y2="1005.9"/>
<line x1="1402.7" y1="1005" x2="1402.7" y2="1029"/><line x1="1417.7" y1="1005" x2="1417.7" y2="1018"/>
<line x1="1387" y1="1018" x2="1387" y2="1029"/><line x1="1394" y1="1018" x2="1394" y2="1029"/>
<line x1="1402.7" y1="1040" x2="1402.7" y2="1049"/>
</g>
<g class="t" font-size="5">
<text x="1273.5" y="1015">标记</text><text x="1286.5" y="1015">处数</text><text x="1302" y="1015">分区</text><text x="1319" y="1015">更改号</text><text x="1339" y="1015">签名</text><text x="1354" y="1015">年月日</text>
<text x="1274" y="1023">设计</text><text x="1274" y="1031">校核</text><text x="1274" y="1040">主管</text>
<text x="1324" y="1031">工艺</text><text x="1324" y="1040">审核</text><text x="1324" y="1048">批准</text>
<text x="1395" y="996">组合件</text>
<text x="1375" y="1014">阶段标记</text><text x="1405" y="1014">重量</text><text x="1420" y="1014">比例</text>
<text x="1374" y="1026">数量</text><text x="1404" y="1026">278155</text><text x="1420" y="1026">1:3</text>
<text x="1453" y="1019" font-size="6">驱动桥</text><text x="1450" y="1037" font-size="6">QDQ-00</text><text x="1458" y="1047">否</text>
</g>
</svg>
</body></html>
